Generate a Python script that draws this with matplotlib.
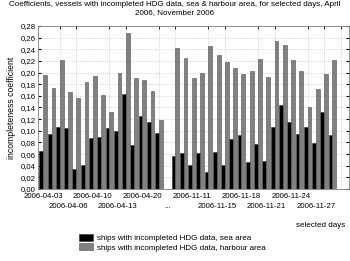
import numpy as np
import matplotlib
matplotlib.use("Agg")
import matplotlib.pyplot as plt
import matplotlib.transforms as mtransforms
from matplotlib.ticker import FuncFormatter, MultipleLocator
from matplotlib.patches import Patch

plt.rcParams['font.family'] = ['Liberation Sans', 'DejaVu Sans']

title = "Coefficients, vessels with incompleted HDG data, sea & harbour area, for selected days, April\n2006, November 2006"

sea_april = [0.065, 0.094, 0.106, 0.105, 0.035, 0.042, 0.088, 0.090, 0.105, 0.099,
             0.163, 0.075, 0.125, 0.115, 0.097]
harbour_april = [0.196, 0.173, 0.221, 0.167, 0.157, 0.184, 0.194, 0.161, 0.132, 0.199,
                 0.268, 0.191, 0.187, 0.168, 0.118]
sea_nov = [0.057, 0.061, 0.042, 0.062, 0.029, 0.063, 0.042, 0.086, 0.093, 0.047,
           0.078, 0.048, 0.106, 0.144, 0.115, 0.095, 0.107, 0.079, 0.132, 0.093]
harbour_nov = [0.242, 0.225, 0.191, 0.200, 0.246, 0.231, 0.219, 0.207, 0.198, 0.202,
               0.224, 0.193, 0.254, 0.248, 0.221, 0.202, 0.140, 0.171, 0.198, 0.221]

tick_labels = ["2006-04-03", "2006-04-06", "2006-04-10", "2006-04-13", "2006-04-20", "...",
               "2006-11-11", "2006-11-15", "2006-11-18", "2006-11-21", "2006-11-24", "2006-11-27"]

series_names = ["ships with incompleted HDG data, sea area",
                "ships with incompleted HDG data, harbour area"]

sea = np.array(sea_april + [np.nan] + sea_nov)
harbour = np.array(harbour_april + [np.nan] + harbour_nov)
slots = np.arange(1, len(sea) + 1)

fig = plt.figure(figsize=(3.5, 2.61), dpi=100)
ax = fig.add_axes([0.1094, 0.2759, 0.8886, 0.6245])

w = 0.46
ax.bar(slots - w / 2, sea, width=w, color="#000000", edgecolor="#333333", linewidth=0.4, zorder=3)
ax.bar(slots + w / 2, harbour, width=w, color="#808080", edgecolor="#505050", linewidth=0.4, zorder=3)

ax.set_xlim(0.4, 38.05)
ax.set_ylim(0, 0.28)
ax.yaxis.set_major_locator(MultipleLocator(0.02))
ax.yaxis.set_major_formatter(FuncFormatter(lambda v, p: f"{v:.2f}".replace(".", ",")))

tpos = np.arange(1, 3 * len(tick_labels), 3)
ax.set_xticks(tpos)
ax.set_xticklabels([])
ax.set_xticks(np.arange(1, 38, 2), minor=True)
ax.tick_params(axis='x', which='major', length=0)
ax.tick_params(axis='x', which='minor', length=2, direction='in', top=True, bottom=False)
ax.tick_params(axis='y', labelsize=5.6, length=2, direction='in', pad=2, right=True)

trans = mtransforms.blended_transform_factory(ax.transData, ax.transAxes)
for i, (x, lab) in enumerate(zip(tpos, tick_labels)):
    yy = -0.025 if i % 2 == 0 else -0.088
    ax.text(x, yy, lab, transform=trans, ha='center', va='top', fontsize=5.6)

ax.grid(True, which='major', axis='y', linestyle=(0, (1, 2)), color="#b0b0b0", linewidth=0.5, zorder=0)
ax.grid(True, which='minor', axis='x', linestyle=(0, (1, 2)), color="#b0b0b0", linewidth=0.5, zorder=0)
for s in ax.spines.values():
    s.set_color("#808080")
    s.set_linewidth(0.6)

ax.set_ylabel("incompleteness coefficient", fontsize=6.2, labelpad=3)
fig.text(0.5, 0.995, title, ha='center', va='top', fontsize=5.8, linespacing=1.1)
fig.text(0.985, 0.135, "selected days", ha='right', va='center', fontsize=5.8)

handles = [Patch(facecolor="#000000", edgecolor="#333333", linewidth=0.4),
           Patch(facecolor="#808080", edgecolor="#505050", linewidth=0.4)]
fig.legend(handles, series_names, loc='upper left', bbox_to_anchor=(0.225, 0.103),
           frameon=False, fontsize=5.8, handlelength=1.8, handleheight=0.9,
           handletextpad=0.5, labelspacing=0.15, borderpad=0, borderaxespad=0)

fig.savefig("out.png", dpi=100)
